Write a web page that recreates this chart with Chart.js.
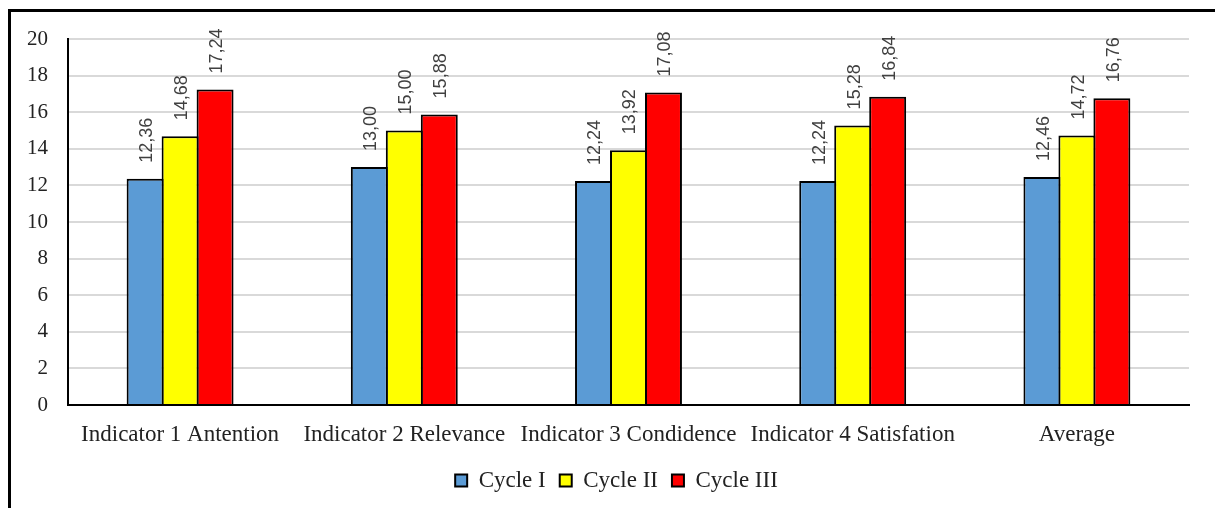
<!DOCTYPE html>
<html>
<head>
<meta charset="utf-8">
<script src="https://cdn.jsdelivr.net/npm/chart.js@4"></script>
<style>
  html, body { margin: 0; padding: 0; background: #fff; overflow: hidden; }
  #wrap { position: absolute; left: 0; top: 0; width: 1215px; height: 508px; }
  #frame {
    position: absolute; left: 8px; top: 9px; width: 1400px; height: 700px;
    border-left: 3px solid #000; border-top: 3px solid #000; pointer-events: none;
  }
</style>
</head>
<body>
<div id="wrap">
  <canvas id="bar-chart"></canvas>
  <div id="frame"></div>
</div>
<script>
const categories = [
  "Indicator 1 Antention",
  "Indicator 2 Relevance",
  "Indicator 3 Condidence",
  "Indicator 4 Satisfation",
  "Average",
];
const cycle1 = [12.36, 13.0, 12.24, 12.24, 12.46];
const cycle2 = [14.68, 15.0, 13.92, 15.28, 14.72];
const cycle3 = [17.24, 15.88, 17.08, 16.84, 16.76];
const seriesNames = ["Cycle I", "Cycle II", "Cycle III"];
const yTicks = [0, 2, 4, 6, 8, 10, 12, 14, 16, 18, 20];

const serif = "'Liberation Serif', 'Times New Roman', serif";

// value labels, rotated, above each bar
const valueLabels = {
  id: "valueLabels",
  afterDatasetsDraw(chart) {
    const ctx = chart.ctx;
    ctx.save();
    ctx.font = "18px 'Liberation Sans', Arial, sans-serif";
    ctx.fillStyle = "#404040";
    ctx.textAlign = "left";
    ctx.textBaseline = "middle";
    chart.data.datasets.forEach((ds, i) => {
      const meta = chart.getDatasetMeta(i);
      meta.data.forEach((bar, j) => {
        const txt = ds.data[j].toFixed(2).replace(".", ",");
        ctx.save();
        ctx.translate(bar.x + 2, bar.y - 16);
        ctx.rotate(-Math.PI / 2);
        ctx.fillText(txt, 0, 0);
        ctx.restore();
      });
    });
    ctx.restore();
  },
};

// the legend in the original sits a bit right of centre
const legendShift = {
  id: "legendShift",
  afterLayout(chart) {
    chart.legend.left += 22;
    chart.legend.right += 22;
  },
};

const config = {
  type: "bar",
  data: {
    labels: categories,
    datasets: [
      { label: seriesNames[0], data: cycle1, backgroundColor: "#5b9bd5" },
      { label: seriesNames[1], data: cycle2, backgroundColor: "#ffff00" },
      { label: seriesNames[2], data: cycle3, backgroundColor: "#ff0000" },
    ],
  },
  options: {
    responsive: false,
    animation: false,
    datasets: {
      bar: {
        borderColor: "#000",
        borderWidth: 2,
        categoryPercentage: 0.468,
        barPercentage: 1.057,
      },
    },
    layout: { padding: { left: 0, top: 39, right: 26, bottom: 6 } },
    plugins: {
      tooltip: { enabled: false },
      legend: {
        position: "bottom",
        labels: {
          boxWidth: 12,
          boxHeight: 12,
          padding: 14,
          color: "#222",
          font: { family: serif, size: 23 },
        },
      },
    },
    scales: {
      x: {
        grid: { display: false },
        border: { display: true, color: "#000", width: 2 },
        ticks: {
          color: "#222",
          font: { family: serif, size: 23 },
          autoSkip: false,
          maxRotation: 0,
          padding: 8,
        },
        afterFit(scale) { scale.height = 50; },
      },
      y: {
        min: 0,
        max: 20,
        afterBuildTicks(scale) { scale.ticks = yTicks.map(v => ({ value: v })); },
        grid: { color: "#d9d9d9", lineWidth: 2, drawTicks: false },
        border: { display: true, color: "#000", width: 2 },
        ticks: {
          color: "#222",
          font: { family: serif, size: 21 },
          padding: 20,
        },
        afterFit(scale) { scale.width = 68; },
      },
    },
  },
  plugins: [valueLabels, legendShift],
};

const canvas = document.getElementById("bar-chart");
canvas.width = 1215;
canvas.height = 508;
const myBarChart = new Chart(canvas, config);
</script>
</body>
</html>
